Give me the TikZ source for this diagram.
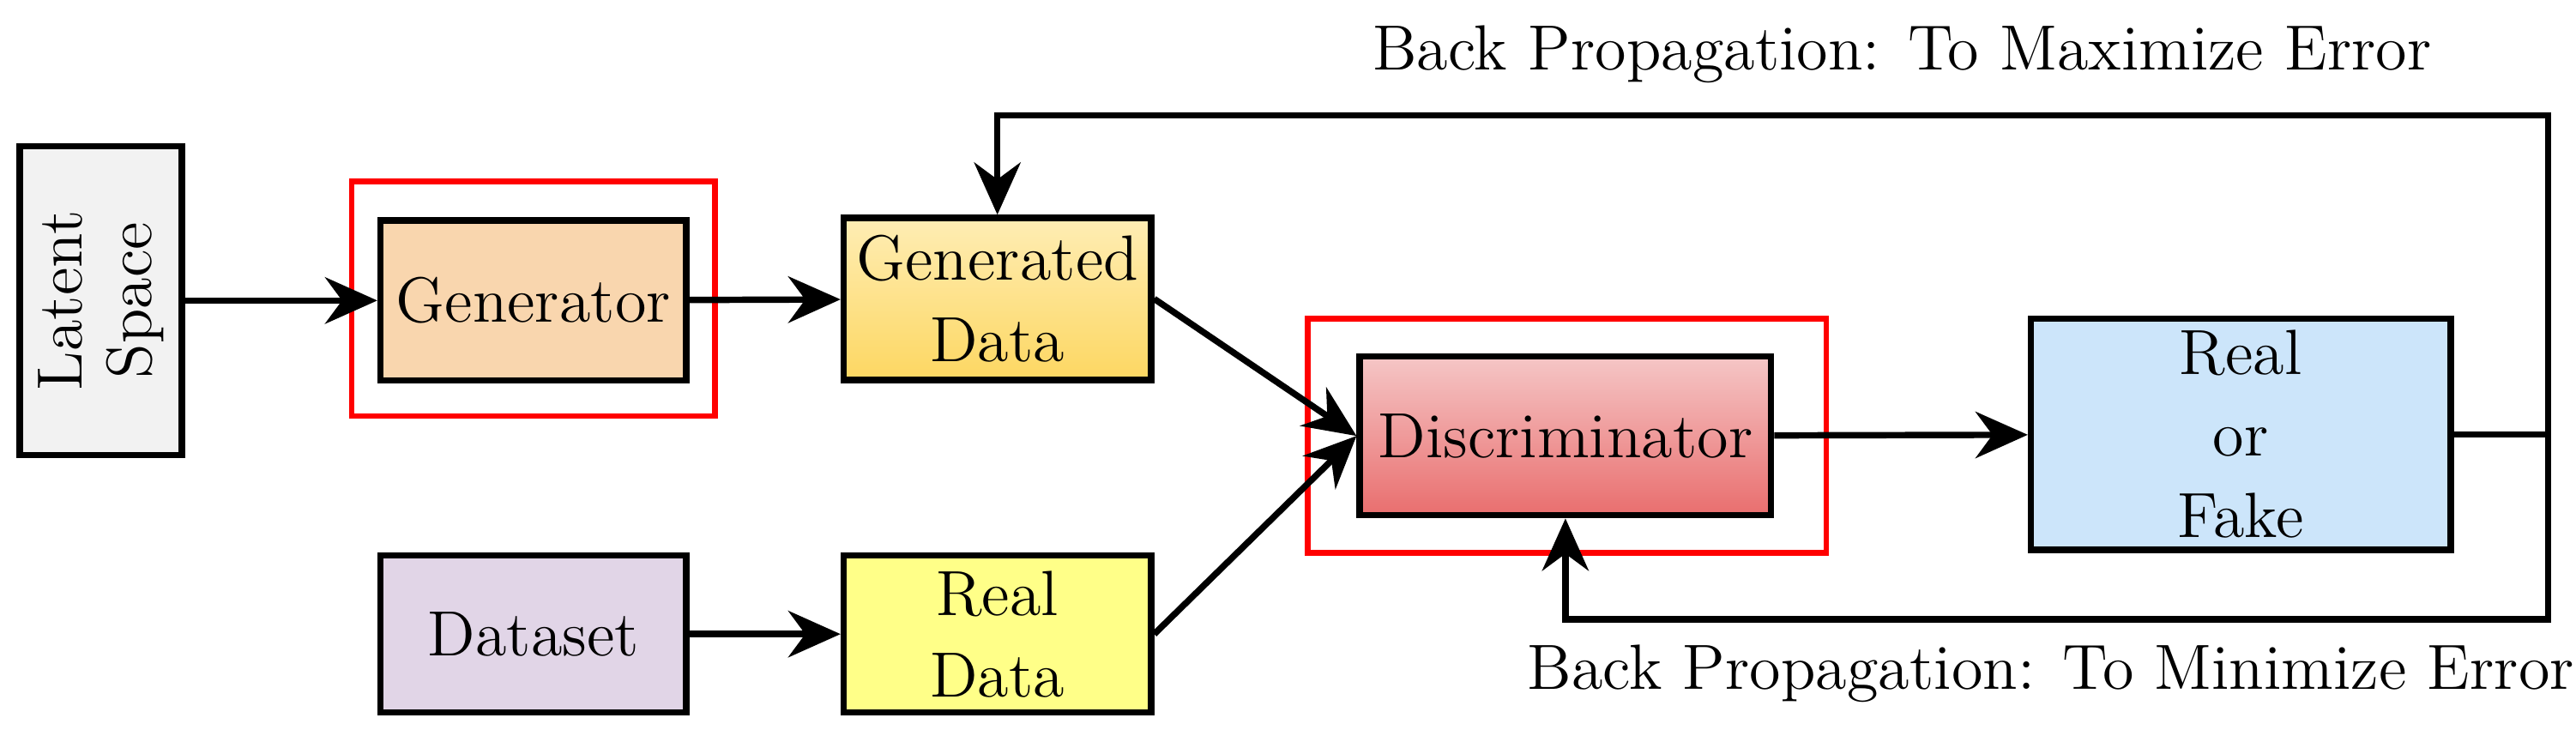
\documentclass[tikz,border=0pt]{standalone}
\usepackage{tikz}
\usetikzlibrary{arrows.meta}

\definecolor{latentgray}{HTML}{F2F2F2}
\definecolor{genpeach}{HTML}{F9D6AE}
\definecolor{gdtop}{HTML}{FEEDB4}
\definecolor{gdbot}{HTML}{FDD762}
\definecolor{distop}{HTML}{F5C6C6}
\definecolor{disbot}{HTML}{E96E6E}
\definecolor{rfblue}{HTML}{CCE5FA}
\definecolor{dslilac}{HTML}{E1D5E7}
\definecolor{rdyellow}{HTML}{FFFF88}

\tikzset{
  blk/.style={draw, line width=1.1pt, align=center, inner sep=0pt,
    font=\fontsize{11}{14}\selectfont},
  redbox/.style={draw=red, line width=1pt},
  flow/.style={line width=1.1pt, -{Stealth[length=9pt,width=8pt]}},
}

\begin{document}
\begin{tikzpicture}[x=0.01cm,y=-0.01cm]
    \useasboundingbox (0,0) rectangle (1560,449);
    % enclosing red frames
    \draw[redbox] (213,110) rectangle (433,252);
    \draw[redbox] (792,193) rectangle (1106,335);
    % blocks
    \node[blk, fill=latentgray, minimum width=0.98cm, minimum height=1.87cm] (latent) at (61,182) {};
    \node[rotate=90, align=center, font=\fontsize{11}{12}\selectfont] at (latent.center) {Latent\\Space};
    \node[blk, fill=genpeach, minimum width=1.85cm, minimum height=0.97cm] (gen) at (323,182) {Generator};
    \node[blk, top color=gdtop, bottom color=gdbot, minimum width=1.86cm, minimum height=0.98cm] (gdata) at (604,181) {Generated\\Data};
    \node[blk, top color=distop, bottom color=disbot, minimum width=2.49cm, minimum height=0.96cm] (disc) at (948,264) {Discriminator};
    \node[blk, fill=rfblue, minimum width=2.54cm, minimum height=1.40cm] (rf) at (1357,263) {Real\\or\\Fake};
    \node[blk, fill=dslilac, minimum width=1.85cm, minimum height=0.95cm] (dset) at (323,384) {Dataset};
    \node[blk, fill=rdyellow, minimum width=1.86cm, minimum height=0.95cm] (rdata) at (604,384) {Real\\Data};
    % forward flow
    \draw[flow] (latent) -- (gen);
    \draw[flow] (gen) -- (gdata);
    \draw[flow] (gdata.east) -- (disc.west);
    \draw[flow] (rdata.east) -- (disc.west);
    \draw[flow] (dset) -- (rdata);
    \draw[flow] (disc) -- (rf);
    % feedback loops
    \coordinate (turn) at (1543,263);
    \draw[flow] (rf.east) -- (turn) -- (1543,70) -| (gdata.north);
    \draw[flow] (turn) -- (1543,375) -| (disc.south);
    \node[font=\fontsize{11}{12}\selectfont] (maxlbl) at (1152,33) {Back Propagation: To Maximize Error};
    \node[font=\fontsize{11}{12}\selectfont] (minlbl) at (1242,408) {Back Propagation: To Minimize Error};
\end{tikzpicture}
\end{document}
